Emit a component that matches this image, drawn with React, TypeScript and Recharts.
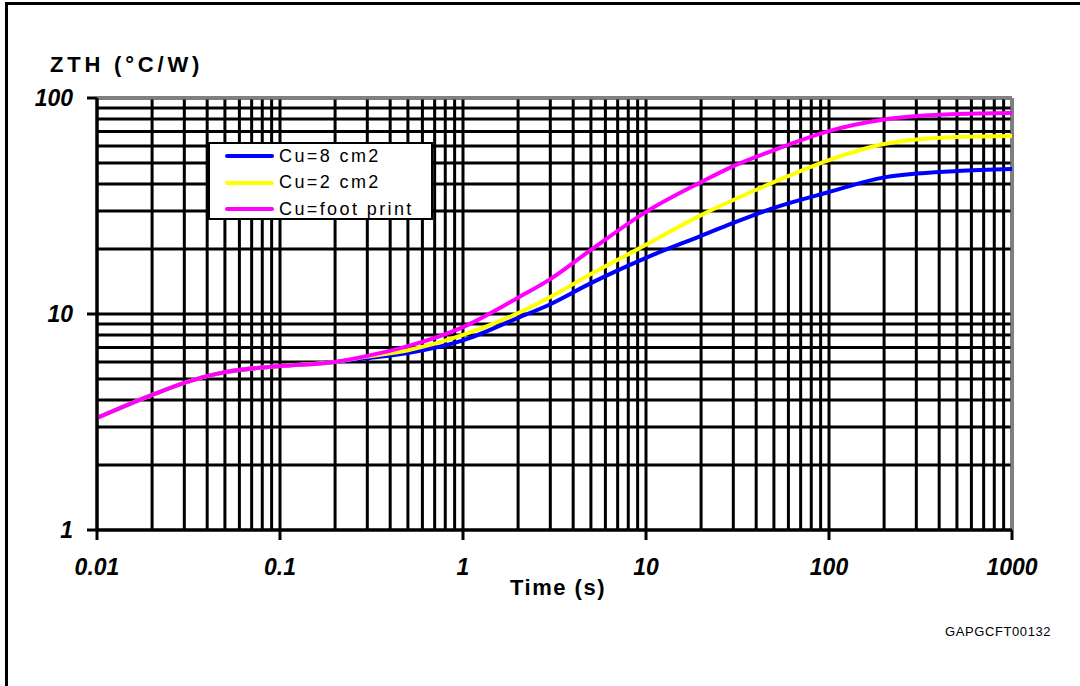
import { LineChart, Line, XAxis, YAxis, CartesianGrid, ReferenceLine } from 'recharts';

// time points (s)
const times = [0.01, 0.02, 0.03, 0.04, 0.05, 0.1, 0.2, 0.3, 0.5, 1, 2, 3, 5, 10, 20, 30, 50, 100, 200, 500, 1000];

// ZTH (°C/W)
const cu8 = [3.3, 4.22, 4.8, 5.16, 5.38, 5.74, 6.0, 6.25, 6.6, 7.55, 9.6, 11.1, 13.9, 18.2, 23.0, 26.4, 31.0, 36.7, 42.9, 45.9, 46.9];
const cu2 = [3.3, 4.22, 4.8, 5.16, 5.38, 5.74, 6.0, 6.35, 6.8, 8.0, 10.1, 12.0, 15.3, 20.9, 28.7, 33.7, 40.8, 51.6, 61.2, 66.0, 66.7];
const footPrint = [3.3, 4.22, 4.8, 5.16, 5.38, 5.74, 6.0, 6.4, 7.1, 8.7, 11.9, 14.5, 19.8, 29.7, 40.8, 48.4, 57.4, 70.3, 79.5, 84.3, 85.2];

const xDecades = [0.01, 0.1, 1, 10, 100, 1000];
const yDecades = [1, 10, 100];
const xLabels = ['0.01', '0.1', '1', '10', '100', '1000'];
const yLabels = ['1', '10', '100'];

const withMinors = (decades: number[]) => {
  const out: number[] = [];
  decades.forEach((d, i) => {
    if (i === decades.length - 1) {
      out.push(d);
      return;
    }
    for (let k = 1; k <= 9; k++) out.push(+(d * k).toPrecision(6));
  });
  return out;
};

const xTicks = withMinors(xDecades);
const yTicks = withMinors(yDecades);

const data = times.map((t, i) => ({ t, cu8: cu8[i], cu2: cu2[i], fp: footPrint[i] }));

const series = [
  { key: 'cu8', name: 'Cu=8 cm2', color: '#0000ff' },
  { key: 'cu2', name: 'Cu=2 cm2', color: '#ffff00' },
  { key: 'fp', name: 'Cu=foot print', color: '#ff00ff' },
];

const font = 'Arial, "Liberation Sans", sans-serif';
const tickFont = { fontFamily: font, fontWeight: 700, fontStyle: 'italic', fontSize: 23, fill: '#000' };

const XTick = (props: any) => {
  const { x, y, payload } = props;
  const idx = xDecades.findIndex((d) => Math.abs(d - payload.value) < d * 1e-6);
  if (idx < 0) return null;
  return (
    <g>
      <line x1={x} x2={x} y1={y - 8} y2={y + 2} stroke="#000" strokeWidth={3} />
      <text x={x} y={y + 37} textAnchor="middle" style={tickFont}>{xLabels[idx]}</text>
    </g>
  );
};

const YTick = (props: any) => {
  const { x, y, payload } = props;
  const idx = yDecades.findIndex((d) => Math.abs(d - payload.value) < d * 1e-6);
  if (idx < 0) return null;
  return (
    <g>
      <line x1={x - 2} x2={x + 8} y1={y} y2={y} stroke="#000" strokeWidth={3} />
      <text x={x - 16} y={y + 8} textAnchor="end" style={tickFont}>{yLabels[idx]}</text>
    </g>
  );
};

const LegendBox = () => (
  <div style={{ position: 'absolute', left: 208, top: 142, width: 225, height: 78, border: '2px solid #000', background: '#fff', boxSizing: 'border-box', fontFamily: font, fontSize: 18, letterSpacing: 2.4 }}>
    {series.map((s, i) => (
      <div key={s.key} style={{ position: 'absolute', left: 15, top: 1 + i * 26.5, height: 22, display: 'flex', alignItems: 'center', whiteSpace: 'nowrap' }}>
        <span style={{ display: 'inline-block', width: 49, height: 4, borderRadius: 2, background: s.color, marginRight: 5 }} />
        <span>{s.name}</span>
      </div>
    ))}
  </div>
);

export default function App() {
  return (
    <div style={{ position: 'absolute', left: 0, top: 0, width: 1080, height: 686, background: '#fff', overflow: 'hidden' }}>
      <div style={{ position: 'absolute', left: 5, top: 2, width: 1075, height: 684, borderTop: '3px solid #000', borderLeft: '3px solid #000', boxSizing: 'border-box' }} />
      <div style={{ position: 'absolute', left: 0, top: 0 }}>
        <LineChart width={1080} height={686} data={data} margin={{ top: 98, right: 68, bottom: 96, left: 37 }}>
          <CartesianGrid stroke="#000" strokeWidth={3} />
          <XAxis
            dataKey="t"
            type="number"
            scale="log"
            domain={[0.01, 1000]}
            ticks={xTicks}
            interval={0}
            allowDataOverflow
            height={60}
            tickLine={false}
            axisLine={{ stroke: '#000', strokeWidth: 3 }}
            tick={<XTick />}
          />
          <YAxis
            type="number"
            scale="log"
            domain={[1, 100]}
            ticks={yTicks}
            interval={0}
            allowDataOverflow
            width={60}
            tickLine={false}
            axisLine={{ stroke: '#000', strokeWidth: 3 }}
            tick={<YTick />}
          />
          <ReferenceLine y={100} stroke="#808080" strokeWidth={3} />
          <ReferenceLine x={1000} stroke="#808080" strokeWidth={3} />
          {series.map((s) => (
            <Line key={s.key} dataKey={s.key} name={s.name} type="monotone" stroke={s.color} strokeWidth={4} dot={false} isAnimationActive={false} />
          ))}
        </LineChart>
      </div>
      <LegendBox />
      <div style={{ position: 'absolute', left: 50, top: 54, lineHeight: '22px', fontFamily: font, fontWeight: 700, fontSize: 22, letterSpacing: 3.8, whiteSpace: 'nowrap' }}>ZTH (°C/W)</div>
      <div style={{ position: 'absolute', left: 458, width: 200, top: 577, lineHeight: '22px', textAlign: 'center', fontFamily: font, fontWeight: 700, fontSize: 22, letterSpacing: 1.5 }}>Time (s)</div>
      <div style={{ position: 'absolute', left: 945, top: 625, lineHeight: '13px', fontFamily: font, fontSize: 13, letterSpacing: 0.6, whiteSpace: 'nowrap' }}>GAPGCFT00132</div>
    </div>
  );
}
